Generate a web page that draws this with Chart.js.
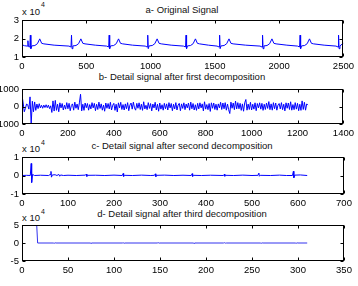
<!DOCTYPE html>
<html>
<head>
<meta charset="utf-8">
<script src="https://cdn.jsdelivr.net/npm/chart.js@4.4.1/dist/chart.umd.min.js"></script>
<style>
  body { margin: 0; background: #fff; }
  #wrap { position: relative; width: 358px; height: 286px; overflow: hidden;
          font-family: "Liberation Sans", Arial, sans-serif; color: #111; }
  #wrap canvas { position: absolute; left: 0; }
  .title { position: absolute; font-size: 9.5px; line-height: 11px; white-space: nowrap; transform: translateX(-50%); }
  .exp { position: absolute; font-size: 9.5px; line-height: 11px; white-space: nowrap; }
  .sup { position: absolute; font-size: 7px; line-height: 8px; }
</style>
</head>
<body>
<div id="wrap">
  <div class="title" style="left:182px;top:4px">a- Original Signal</div>
  <div class="exp" style="left:22px;top:6px">x 10</div><div class="sup" style="left:41px;top:1px">4</div>
  <canvas id="cA" width="358" height="70" style="top:0px"></canvas>

  <div class="title" style="left:182px;top:71px">b- Detail signal after first decomposition</div>
  <canvas id="cB" width="358" height="68" style="top:70px"></canvas>

  <div class="title" style="left:182px;top:140px">c- Detail signal after second decomposition</div>
  <div class="exp" style="left:22px;top:143px">x 10</div><div class="sup" style="left:41px;top:139px">4</div>
  <canvas id="cC" width="358" height="69" style="top:138px"></canvas>

  <div class="title" style="left:182px;top:208px">d- Detail signal after third decomposition</div>
  <div class="exp" style="left:22px;top:212px">x 10</div><div class="sup" style="left:41px;top:208px">4</div>
  <canvas id="cD" width="358" height="79" style="top:207px"></canvas>
</div>

<script>
// ---- a- Original signal (key points of the ECG trace) ----
const origX = [0, 20, 40, 46, 50, 61, 65, 69, 76, 100, 120, 138, 153, 170, 250, 365,
  381, 385, 389, 396, 420, 440, 458, 473, 490, 570, 658,
  674, 678, 682, 689, 713, 733, 751, 766, 783, 860, 958,
  974, 978, 982, 989, 1013, 1033, 1051, 1066, 1083, 1160, 1256,
  1272, 1276, 1280, 1287, 1311, 1331, 1349, 1364, 1381, 1450, 1517,
  1533, 1537, 1541, 1548, 1572, 1592, 1610, 1625, 1642, 1740, 1851,
  1867, 1871, 1875, 1882, 1906, 1926, 1944, 1959, 1976, 2060, 2143,
  2159, 2163, 2167, 2174, 2198, 2218, 2236, 2251, 2268, 2350, 2442,
  2458, 2462, 2466, 2473, 2490, 2500];
const origY = [16600, 16100, 15900, 18800, 15600, 15400, 21800, 14500, 16000, 16200, 17200, 19800, 17400, 17100, 16400, 15900,
  15400, 21800, 14500, 16000, 16200, 17200, 19800, 17400, 17100, 16400, 15900,
  15400, 21800, 14500, 16000, 16200, 17200, 19800, 17400, 17100, 16400, 15900,
  15400, 21800, 14500, 16000, 16200, 17200, 19800, 17400, 17100, 16400, 15900,
  15400, 21800, 14500, 16000, 16200, 17200, 19800, 17400, 17100, 16400, 15900,
  15400, 21800, 14500, 16000, 16200, 17200, 19800, 17400, 17100, 16400, 15900,
  15400, 21800, 14500, 16000, 16200, 17200, 19800, 17400, 17100, 16400, 15900,
  15400, 21800, 14500, 16000, 16200, 17200, 19800, 17400, 17100, 16400, 15900,
  15400, 21800, 14500, 16000, 17000, 17400];

// ---- b- first detail signal, one value every 5 samples ----
const detail1Step = 5;
const detail1Y = [
  650, 200, -300, -100, 150, 80, -150, 550, -1000, 300,
  -300, 260, -220, 140, -120, 160, -80, 70, -100, 80,
  -60, 100, -70, 80, -120, 40, -340, 320, -260, 350,
  -220, 130, -300, 210, -80, 170, -200, 80, -150, 220,
  -130, 180, -240, 60, 150, -210, 250, -100, 140, -180,
  210, 700, -250, 130, -220, 200, -70, 170, -210, 110,
  -140, 220, -80, 180, -240, 130, -170, 250, -110, 150,
  -210, 80, -270, 200, -100, 170, -140, 240, -200, 70,
  180, -220, 130, -310, 210, -80, 240, -170, 110, -200,
  150, -130, 220, -240, 80, 200, -150, 250, -80, -210,
  180, -100, 210, -170, 130, -220, 270, -140, 70, -180,
  220, -110, 170, -250, 140, -80, 240, -200, 130, -270,
  200, -150, 100, -210, 180, -130, 150, -200, 220, -80,
  170, -240, 130, -140, 220, -200, 80, 180, -240, 150,
  -110, 210, -180, 140, -80, 200, -210, 250, -130, 170,
  -200, 100, -220, 180, -140, 210, -80, 150, -250, 270,
  -150, 110, -180, 170, -280, 210, -100, 200, -170, 130,
  -210, 150, -80, 240, -170, 200, -130, 220, -210, 140,
  -180, -400, 250, -100, 200, -180, 310, -140, 220, -130,
  180, -220, 150, -270, 210, 400, -210, 140, -170, 240,
  -200, 130, -150, 210, -240, 170, -80, 210, -150, 180,
  -220, 130, -170, 200, -110, 280, -180, 150, -210, 220,
  -130, 200, -210, 80, 170, -140, 220, -180, 130, -250,
  210, -100, 200, -170, 270, -210, 110, -180, 220, -150,
  180, -240, 130, -220, 320, -170, 240, -210, 150, 80];

// ---- c- second detail signal (key points) ----
const detail2X = [0, 10, 18, 20, 21, 23, 27, 40, 58, 61, 63, 64, 66, 72, 76, 80, 82, 84, 90, 100,
  118, 138, 140, 141, 143, 160, 180, 200, 218, 220, 221, 223, 240, 260, 280, 288, 290, 291, 293, 310,
  330, 350, 368, 370, 371, 373, 390, 410, 438, 440, 441, 443, 460, 480, 500, 513, 515, 516, 518, 540,
  560, 575, 588, 590, 591, 593, 605, 620];
const detail2Y = [0, 100, 0, 6500, -3800, 600, 0, 150, 0, 500, 2200, -900, 300, 400, 0, 600, -400, 300, 0, 150,
  0, 200, 800, -500, 100, 150, 0, 200, 0, 1100, -500, 100, 0, 200, 0, 100, 900, -600, 100, 200,
  0, 150, 0, 1000, -500, 100, 0, 150, 0, 700, -400, 100, 0, 200, 0, 100, 1300, -400, 100, 0,
  200, 0, 0, 2300, -1200, 200, 300, 0];

// ---- d- third detail signal (key points) ----
const detail3X = [0, 4, 8, 12, 16, 17, 34, 35, 36, 37, 74, 75, 76, 77, 109, 110, 111, 112,
  147, 148, 149, 150, 186, 187, 188, 189, 219, 220, 221, 222, 259, 260, 261, 262, 297, 298, 299, 300, 310];
const detail3Y = [49000, 48500, 49000, 48500, 49000, 0, 0, -800, 500, 0, 0, -700, 300, 0, 0, 600, -700, 0,
  0, 1000, -400, 0, 0, -900, 300, 0, 0, 900, -400, 0, 0, -800, 300, 0, 0, -800, 400, 0, 0];

Chart.defaults.font.family = '"Liberation Sans", Arial, sans-serif';
Chart.defaults.font.size = 9.5;
Chart.defaults.color = '#000';

// box with inward tick marks on all four sides
const matlabBox = {
  id: 'matlabBox',
  afterDraw(chart) {
    const { ctx, chartArea: a, scales } = chart;
    const L = Math.round(a.left) + 0.5, R = Math.round(a.right) - 0.5;
    const T = Math.round(a.top) + 0.5, B = Math.round(a.bottom) - 0.5;
    ctx.save();
    ctx.strokeStyle = '#000';
    ctx.lineWidth = 1;
    ctx.strokeRect(L, T, R - L, B - T);
    ctx.beginPath();
    scales.x.ticks.forEach(t => {
      const px = Math.round(scales.x.getPixelForValue(t.value)) + 0.5;
      ctx.moveTo(px, B); ctx.lineTo(px, B - 3);
      ctx.moveTo(px, T); ctx.lineTo(px, T + 3);
    });
    scales.y.ticks.forEach(t => {
      const py = Math.round(scales.y.getPixelForValue(t.value)) + 0.5;
      ctx.moveTo(L, py); ctx.lineTo(L + 3, py);
      ctx.moveTo(R, py); ctx.lineTo(R - 3, py);
    });
    ctx.stroke();
    ctx.restore();
  }
};

function makePanel(id, points, opts) {
  return new Chart(document.getElementById(id), {
    type: 'line',
    data: {
      datasets: [{
        data: points,
        borderColor: opts.color || '#0000ff',
        borderWidth: 1,
        pointRadius: 0,
        tension: 0,
        fill: false
      }]
    },
    options: {
      responsive: false,
      animation: false,
      events: [],
      layout: { padding: { top: opts.top, right: 14, left: 0, bottom: 0 } },
      plugins: { legend: { display: false }, tooltip: { enabled: false } },
      scales: {
        x: {
          type: 'linear',
          min: 0, max: opts.xMax,
          grid: { display: false, drawTicks: false },
          border: { display: false },
          ticks: { stepSize: opts.xStep, padding: 4, maxRotation: 0, autoSkip: false,
                   callback: v => String(v) },
          afterFit: s => { s.height = opts.xh; }
        },
        y: {
          min: opts.yMin, max: opts.yMax,
          grid: { display: false, drawTicks: false },
          border: { display: false },
          ticks: {
            stepSize: opts.yStep, padding: 3, autoSkip: false,
            callback: v => String(opts.yDiv ? v / opts.yDiv : v)
          },
          afterFit: s => { s.width = 22; }
        }
      }
    },
    plugins: [matlabBox]
  });
}

makePanel('cA', origX.map((x, i) => ({ x, y: origY[i] })),
  { top: 20, xh: 13, xMax: 2500, xStep: 500, yMin: 10000, yMax: 30000, yStep: 10000, yDiv: 10000 });

makePanel('cB', detail1Y.map((y, i) => ({ x: i * detail1Step, y })),
  { top: 19, xh: 14, xMax: 1400, xStep: 200, yMin: -1000, yMax: 1000, yStep: 1000 });

makePanel('cC', detail2X.map((x, i) => ({ x, y: detail2Y[i] })),
  { top: 19, xh: 13, xMax: 700, xStep: 100, yMin: -10000, yMax: 10000, yStep: 10000, yDiv: 10000 });

makePanel('cD', detail3X.map((x, i) => ({ x, y: detail3Y[i] })),
  { top: 18, xh: 25, xMax: 350, xStep: 50, yMin: -50000, yMax: 50000, yStep: 50000, yDiv: 10000, color: '#3333ee' });
</script>
</body>
</html>
